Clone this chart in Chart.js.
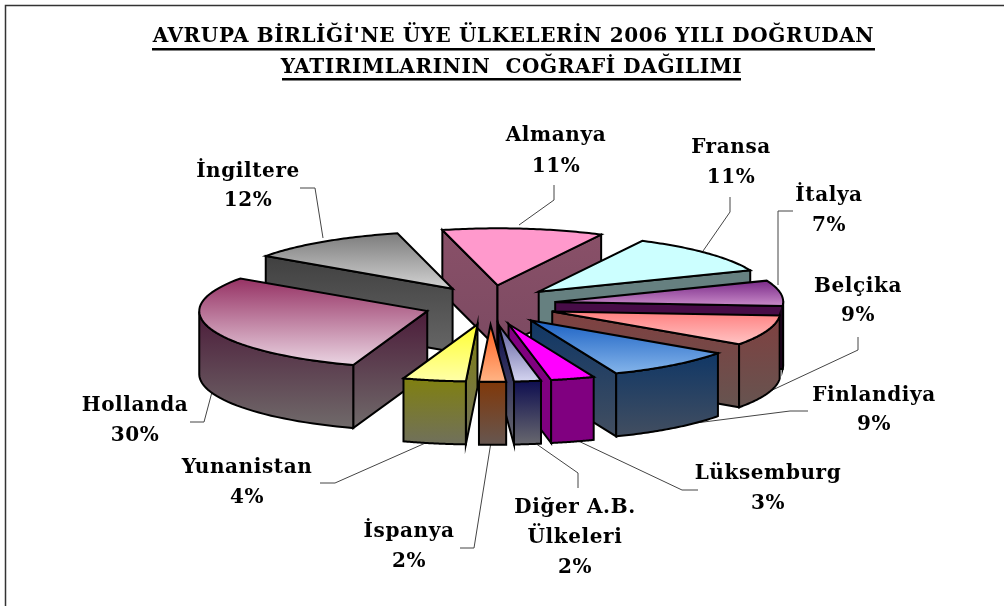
<!DOCTYPE html>
<html><head><meta charset="utf-8">
<script src="https://cdn.jsdelivr.net/npm/chart.js@4"></script>
<style>html,body{margin:0;padding:0;background:#fff;overflow:hidden}canvas{display:block}</style>
</head><body><canvas id="c" width="1004" height="606"></canvas>
<script>
const categories = ['Almanya','Fransa','İtalya','Belçika','Finlandiya','Lüksemburg','Diğer A.B. Ülkeleri','İspanya','Yunanistan','Hollanda','İngiltere'];
const shares = [11.4,11.4,7.2,8.6,9.2,3.1,1.9,1.9,4.45,29.45,11.4];
const titleLines = ["AVRUPA BİRLİĞİ'NE ÜYE ÜLKELERİN 2006 YILI DOĞRUDAN","YATIRIMLARININ  COĞRAFİ DAĞILIMI"];

const topColors = [['#FF99CC','#FF99CC'],['#CCFFFF','#CCFFFF'],['#7A2A88','#C88AC8'],['#FF7F7F','#FFC4C4'],['#1C62C4','#84B4EA'],['#FF00FF','#FF00FF'],['#5C5C9C','#D4D4F0'],['#FF5F1F','#FFB485'],['#FFFF30','#FFFFA8'],['#963264','#EAD4E2'],['#7C7C7C','#D2D2D2']];
const wallColors = [['#895068','#7C4A62'],['#668080','#668080'],['#470C47','#470C47'],['#804040','#665450'],['#103766','#424E60'],['#800080','#800080'],['#0E0E50','#68686E'],['#80380A','#665650'],['#808010','#70705C'],['#4C1C3A','#706A6A'],['#404040','#666666']];

const labelLayout = [
 {lines:['Almanya','11%'],x:556,y:[136,167]},
 {lines:['Fransa','11%'],x:731,y:[148,178]},
 {lines:['İtalya','7%'],x:829,y:[196,226]},
 {lines:['Belçika','9%'],x:858,y:[287,316]},
 {lines:['Finlandiya','9%'],x:874,y:[396,425]},
 {lines:['Lüksemburg','3%'],x:768,y:[474,504]},
 {lines:['Diğer A.B.','Ülkeleri','2%'],x:575,y:[508,538,568]},
 {lines:['İspanya','2%'],x:409,y:[532,562]},
 {lines:['Yunanistan','4%'],x:247,y:[468,498]},
 {lines:['Hollanda','30%'],x:135,y:[406,436]},
 {lines:['İngiltere','12%'],x:248,y:[172,201]}
];
const leaders = [
 [[554,185],[554,200],[519,225]],
 [[730,197],[730,212],[703,251]],
 [[793,211],[778,211],[778,285]],
 [[858,337],[858,350],[766,393]],
 [[808,411],[790,411],[688,424]],
 [[698,490],[682,490],[572,438]],
 [[578,488],[578,473],[535,443]],
 [[460,548],[474,548],[491,442]],
 [[320,483],[335,483],[430,441]],
 [[190,422],[204,422],[212,392]],
 [[300,188],[315,188],[323,238]]
];

const SQUASH = 0.25, OFFSET_SQUASH = 0.3, DEPTH = 63, SERIF = '"DejaVu Serif"';

const pie3d = {
  id:'pie3d',
  beforeDatasetDraw(chart){
    const ctx = chart.ctx, meta = chart.getDatasetMeta(0);
    ctx.save();
    ctx.strokeStyle='#333'; ctx.lineWidth=1.5;
    ctx.beginPath(); ctx.moveTo(5.5,606); ctx.lineTo(5.5,5.5); ctx.lineTo(1004,5.5); ctx.stroke();
    ctx.strokeStyle='#444'; ctx.lineWidth=1;
    leaders.forEach(l=>{ctx.beginPath();l.forEach((p,i)=>i?ctx.lineTo(p[0],p[1]):ctx.moveTo(p[0],p[1]));ctx.stroke();});
    const first = meta.data[0];
    const cx = first.x, cy = first.y;
    const slices = meta.data.map((arc,i)=>{
      const off = (arc.options.offset||0)/4, a0 = arc.startAngle, a1 = arc.endAngle, mid=(a0+a1)/2;
      const ox = Math.cos(mid)*off, oy = Math.sin(mid)*off;
      const pt = (a,r,z)=>[cx+ox+Math.cos(a)*r, cy+oy*OFFSET_SQUASH+Math.sin(a)*r*SQUASH+z];
      const depthKey = oy + Math.sin(mid)*arc.outerRadius*0.6;
      return {i,a0,a1,mid,pt,depthKey,r:arc.outerRadius};
    }).sort((p,q)=>p.depthKey-q.depthKey);
    const fillPoly=(pts,cols)=>{
      let t=Infinity,b=-Infinity; pts.forEach(p=>{t=Math.min(t,p[1]);b=Math.max(b,p[1]);});
      const g=ctx.createLinearGradient(0,t,0,b); g.addColorStop(0,cols[0]); g.addColorStop(1,cols[1]);
      ctx.beginPath(); pts.forEach((p,k)=>k?ctx.lineTo(p[0],p[1]):ctx.moveTo(p[0],p[1])); ctx.closePath();
      ctx.fillStyle=g; ctx.fill(); ctx.strokeStyle='#000'; ctx.lineWidth=2; ctx.lineJoin='miter'; ctx.stroke();
    };
    slices.forEach(s=>{
      const apex=s.pt(0,0,0), wall=wallColors[s.i], N=48;
      const inner=s.pt(s.mid,s.r*0.5,0);
      [s.a0,s.a1].forEach(a=>{
        const b=s.pt(a,s.r,0);
        let visible;
        if(Math.abs(b[0]-apex[0])<0.01) visible=false;
        else { const ly=apex[1]+(b[1]-apex[1])*(inner[0]-apex[0])/(b[0]-apex[0]); visible = inner[1]<ly; }
        if(visible) fillPoly([apex,b,s.pt(a,s.r,DEPTH),s.pt(0,0,DEPTH)],wall);
      });
      let run=[];
      const flush=()=>{ if(run.length>1){
        const upper=run.map(a=>s.pt(a,s.r,0)), lower=run.map(a=>s.pt(a,s.r,DEPTH)).reverse();
        fillPoly(upper.concat(lower),wall);} run=[]; };
      for(let k=0;k<=N;k++){ const a=s.a0+(s.a1-s.a0)*k/N; if(Math.sin(a)>-0.02) run.push(a); else flush(); }
      flush();
      const face=[apex]; for(let k=0;k<=N;k++){ face.push(s.pt(s.a0+(s.a1-s.a0)*k/N,s.r,0)); }
      fillPoly(face,topColors[s.i]);
    });
    ctx.restore();
    return false;
  },
  afterDatasetsDraw(chart){
    const ctx=chart.ctx;
    ctx.save();
    ctx.fillStyle='#000'; ctx.textAlign='center'; ctx.textBaseline='middle';
    ctx.font='bold 20px '+SERIF; ctx.letterSpacing='0.6px';
    labelLayout.forEach(l=>l.lines.forEach((t,j)=>ctx.fillText(t,l.x,l.y[j])));
    ctx.font='bold 20px '+SERIF; ctx.letterSpacing='0.6px';
    ctx.fillText(titleLines[0],513.5,37);
    ctx.fillText(titleLines[1],511.5,68);
    ctx.fillRect(152,48,723,2.5);
    ctx.fillRect(282,78,459,2.5);
    ctx.restore();
  }
};

new Chart(document.getElementById('c'),{
  type:'pie',
  data:{labels:categories,datasets:[{data:shares,offset:264,borderWidth:0,
    backgroundColor:topColors.map(c=>c[0])}]},
  options:{responsive:false,animation:false,events:[],rotation:-14,radius:228,
    layout:{padding:{right:24,top:4}},
    plugins:{legend:{display:false},tooltip:{enabled:false},title:{display:false}}},
  plugins:[pie3d]
});
</script></body></html>
